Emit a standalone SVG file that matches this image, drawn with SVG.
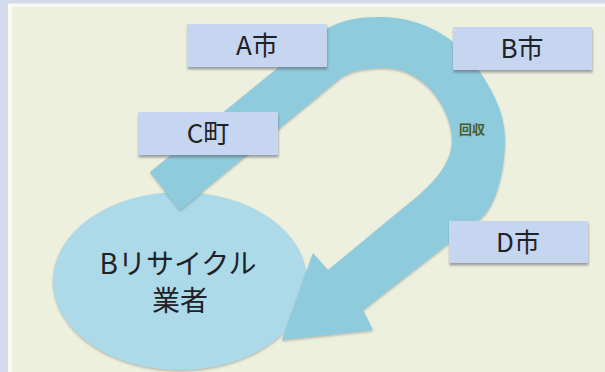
<svg xmlns="http://www.w3.org/2000/svg" width="605" height="372" viewBox="0 0 605 372">
  <style>
    .box { fill: #c6d5f0; filter: url(#sh); }
    .lbl { font-family: "Noto Sans CJK JP", "Noto Sans", sans-serif; font-size: 26px; fill: #1f2328; text-anchor: middle; }
    .big { font-family: "Noto Sans CJK JP", "Noto Sans", sans-serif; font-size: 28px; fill: #1f2328; text-anchor: middle; }
    .small { font-family: "Noto Sans CJK JP", sans-serif; font-size: 13px; font-weight: bold; fill: #4d5a2f; text-anchor: middle; }
  </style>
  <defs>
    <filter id="sh" x="-10%" y="-20%" width="120%" height="150%">
      <feDropShadow dx="0.5" dy="2.5" stdDeviation="1.2" flood-color="#5a5f6a" flood-opacity="0.55"/>
    </filter>
    <filter id="sh2" x="-10%" y="-10%" width="120%" height="120%">
      <feDropShadow dx="0" dy="1.5" stdDeviation="1.2" flood-color="#6a7070" flood-opacity="0.45"/>
    </filter>
  </defs>
  <rect x="0" y="0" width="605" height="372" fill="#d2daec"/>
  <rect x="8" y="3.5" width="597" height="368.5" fill="#f8f9f0"/>
  <rect x="12" y="7" width="593" height="365" fill="#eef0de"/>

  <g id="recycler">
    <ellipse cx="180" cy="281" rx="127" ry="89" fill="#acdae8" filter="url(#sh2)"/>
    <text class="big" x="178" y="274">Bリサイクル</text>
    <text class="big" x="180" y="311">業者</text>
  </g>

  <g id="connectors">
    <path d="M150,172 L318,35 C335,21 355,17 380,17 C420,17 450,35 470,58 C490,85 505,110 505,140 C505,168 497,206 480,219 L363,310 L373,330 L282,340 L313,253 L328,270 L397,213 C422,193 452,170 452,140 C452,110 425,68 385,68 C365,68 350,70 338,80 L180,210 Z" fill="#8ecbdd" filter="url(#sh2)"/>
    <text class="small" x="472" y="134">回収</text>
  </g>

  <g id="cityA">
    <rect class="box" x="187" y="24" width="140" height="43"/>
    <text class="lbl" x="257" y="55">A市</text>
  </g>
  <g id="cityB">
    <rect class="box" x="453" y="27" width="139" height="43"/>
    <text class="lbl" x="522" y="58">B市</text>
  </g>
  <g id="townC">
    <rect class="box" x="138" y="112" width="140" height="43"/>
    <text class="lbl" x="208" y="143">C町</text>
  </g>
  <g id="cityD">
    <rect class="box" x="449" y="221" width="139" height="42"/>
    <text class="lbl" x="518" y="252">D市</text>
  </g>
</svg>
